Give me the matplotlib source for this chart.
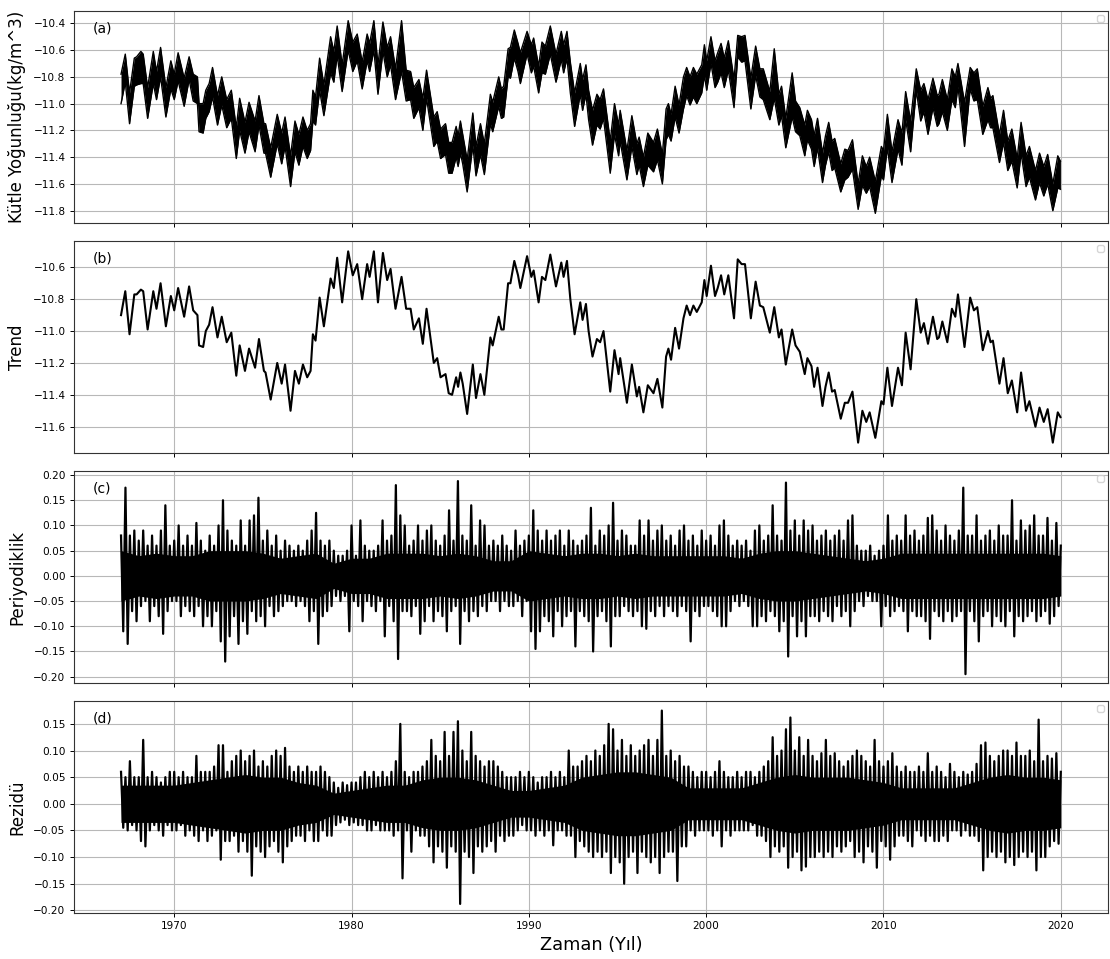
import numpy as np
import matplotlib
matplotlib.use("Agg")
import matplotlib.pyplot as plt
from matplotlib.ticker import MultipleLocator

# ---------------- data ----------------
# Trend (panel b): turning points (year, value)
trend_years = [
    1967.00, 1967.24, 1967.48, 1967.75, 1967.88, 1968.12, 1968.25, 1968.50, 1968.82, 1969.00,
    1969.23, 1969.53, 1969.81, 1970.00, 1970.22, 1970.56, 1970.84, 1971.07, 1971.31, 1971.40,
    1971.63, 1971.78, 1971.97, 1972.16, 1972.44, 1972.68, 1972.96, 1973.22, 1973.50, 1973.69,
    1973.99, 1974.22, 1974.56, 1974.78, 1975.06, 1975.15, 1975.44, 1975.81, 1976.06, 1976.25,
    1976.56, 1976.81, 1977.03, 1977.26, 1977.50, 1977.69, 1977.82, 1977.97, 1978.20, 1978.44,
    1978.82, 1979.00, 1979.19, 1979.47, 1979.81, 1980.07, 1980.32, 1980.60, 1980.88, 1981.02,
    1981.26, 1981.49, 1981.77, 1982.01, 1982.20, 1982.48, 1982.82, 1983.08, 1983.33, 1983.51,
    1983.80, 1984.02, 1984.23, 1984.64, 1984.83, 1985.02, 1985.30, 1985.48, 1985.67, 1985.90,
    1986.01, 1986.14, 1986.27, 1986.52, 1986.84, 1987.02, 1987.27, 1987.49, 1987.83, 1987.96,
    1988.30, 1988.45, 1988.58, 1988.83, 1988.96, 1989.18, 1989.39, 1989.52, 1989.90, 1990.14,
    1990.27, 1990.55, 1990.74, 1990.93, 1991.21, 1991.53, 1991.83, 1991.96, 1992.15, 1992.34,
    1992.58, 1992.90, 1993.03, 1993.22, 1993.37, 1993.59, 1993.84, 1994.02, 1994.21, 1994.59,
    1994.83, 1995.06, 1995.15, 1995.53, 1995.81, 1996.09, 1996.22, 1996.46, 1996.71, 1997.03,
    1997.25, 1997.53, 1997.74, 1997.87, 1998.02, 1998.25, 1998.47, 1998.72, 1998.90, 1999.09,
    1999.28, 1999.47, 1999.75, 1999.90, 2000.03, 2000.27, 2000.50, 2000.65, 2000.84, 2001.02,
    2001.25, 2001.57, 2001.78, 2002.00, 2002.19, 2002.52, 2002.79, 2003.03, 2003.22, 2003.59,
    2003.84, 2004.10, 2004.25, 2004.49, 2004.85, 2005.04, 2005.28, 2005.56, 2005.71, 2005.94,
    2006.09, 2006.28, 2006.56, 2006.73, 2006.91, 2007.10, 2007.25, 2007.59, 2007.82, 2008.00,
    2008.25, 2008.57, 2008.81, 2009.03, 2009.22, 2009.54, 2009.88, 2010.00, 2010.22, 2010.48,
    2010.82, 2011.04, 2011.25, 2011.53, 2011.85, 2012.10, 2012.28, 2012.51, 2012.79, 2013.03,
    2013.13, 2013.32, 2013.60, 2013.86, 2014.05, 2014.20, 2014.57, 2014.89, 2015.10, 2015.29,
    2015.60, 2015.89, 2016.04, 2016.17, 2016.54, 2016.77, 2017.01, 2017.24, 2017.54, 2017.76,
    2018.04, 2018.23, 2018.57, 2018.80, 2019.04, 2019.26, 2019.55, 2019.83, 2019.98,
]
trend_vals = [
    -10.90, -10.75, -11.02, -10.77, -10.77, -10.74, -10.75, -10.99, -10.75, -10.86,
    -10.70, -10.97, -10.78, -10.87, -10.73, -10.91, -10.72, -10.87, -10.90, -11.09,
    -11.10, -11.00, -10.96, -10.85, -11.04, -10.91, -11.07, -11.01, -11.28, -11.09,
    -11.25, -11.11, -11.23, -11.05, -11.25, -11.26, -11.43, -11.20, -11.33, -11.21,
    -11.50, -11.25, -11.33, -11.21, -11.29, -11.25, -11.02, -11.06, -10.79, -10.97,
    -10.67, -10.73, -10.54, -10.82, -10.50, -10.65, -10.58, -10.80, -10.58, -10.66,
    -10.50, -10.82, -10.51, -10.68, -10.61, -10.86, -10.66, -10.86, -10.86, -10.99,
    -10.92, -11.08, -10.86, -11.20, -11.17, -11.29, -11.27, -11.39, -11.40, -11.29,
    -11.35, -11.26, -11.33, -11.52, -11.21, -11.42, -11.27, -11.40, -11.04, -11.09,
    -10.91, -10.99, -10.99, -10.70, -10.70, -10.56, -10.65, -10.73, -10.53, -10.66,
    -10.62, -10.82, -10.66, -10.68, -10.52, -10.72, -10.57, -10.66, -10.56, -10.80,
    -11.02, -10.82, -10.93, -10.83, -11.00, -11.16, -11.05, -11.07, -11.00, -11.38,
    -11.12, -11.27, -11.17, -11.45, -11.21, -11.41, -11.35, -11.51, -11.34, -11.39,
    -11.30, -11.48, -11.16, -11.11, -11.18, -10.98, -11.11, -10.92, -10.84, -10.90,
    -10.84, -10.88, -10.82, -10.68, -10.78, -10.59, -10.78, -10.73, -10.65, -10.77,
    -10.65, -10.92, -10.55, -10.58, -10.58, -10.92, -10.69, -10.84, -10.85, -11.01,
    -10.85, -11.04, -10.99, -11.21, -10.99, -11.09, -11.13, -11.27, -11.17, -11.22,
    -11.35, -11.23, -11.47, -11.35, -11.26, -11.38, -11.37, -11.55, -11.45, -11.45,
    -11.38, -11.70, -11.50, -11.57, -11.51, -11.67, -11.44, -11.46, -11.23, -11.47,
    -11.23, -11.34, -11.01, -11.24, -10.80, -11.01, -10.95, -11.08, -10.91, -11.05,
    -11.04, -10.94, -11.07, -10.86, -10.91, -10.77, -11.10, -10.79, -10.87, -10.85,
    -11.12, -11.00, -11.07, -11.06, -11.33, -11.17, -11.39, -11.31, -11.51, -11.26,
    -11.50, -11.44, -11.60, -11.48, -11.57, -11.49, -11.70, -11.51, -11.54,
]
# Panel (a): how far the raw band reaches above / below the trend at the same years
raw_above = [
    .12, .12, .10, .11, .12, .13, .12, .11, .14, .10,
    .12, .09, .10, .09, .11, .10, .07, .09, .10, .09,
    .10, .10, .11, .12, .10, .11, .10, .11, .10, .13,
    .11, .12, .10, .11, .10, .11, .10, .12, .11, .11,
    .11, .12, .10, .11, .09, .10, .12, .11, .13, .11,
    .17, .12, .12, .11, .12, .11, .10, .11, .10, .11,
    .12, .11, .12, .10, .11, .12, .28, .11, .10, .11,
    .10, .12, .11, .10, .11, .10, .12, .10, .11, .12,
    .11, .13, .10, .10, .14, .10, .12, .10, .11, .10,
    .11, .10, .12, .11, .12, .11, .10, .11, .07, .10,
    .11, .10, .12, .11, .10, .09, .11, .10, .10, .11,
    .10, .12, .11, .12, .10, .11, .12, .10, .11, .10,
    .12, .11, .12, .10, .12, .11, .10, .11, .12, .10,
    .11, .10, .12, .11, .10, .11, .10, .12, .11, .10,
    .11, .10, .11, .12, .10, .09, .10, .11, .10, .11,
    .12, .10, .06, .08, .09, .11, .12, .10, .11, .10,
    .26, .11, .12, .10, .22, .11, .10, .11, .12, .10,
    .11, .12, .10, .11, .12, .10, .11, .10, .11, .10,
    .11, .10, .11, .10, .11, .09, .12, .11, .15, .11,
    .11, .12, .10, .11, .06, .11, .10, .11, .10, .11,
    .11, .12, .10, .12, .11, .07, .11, .06, .10, .11,
    .10, .12, .11, .12, .10, .12, .11, .12, .10, .12,
    .11, .12, .10, .11, .10, .11, .10, .12, .11,
]
raw_below = [
    .10, .09, .13, .10, .09, .11, .10, .12, .10, .11,
    .10, .13, .11, .10, .10, .11, .10, .11, .10, .12,
    .12, .11, .10, .10, .12, .10, .11, .10, .13, .11,
    .12, .10, .13, .11, .12, .11, .12, .10, .12, .11,
    .12, .11, .13, .11, .12, .10, .11, .10, .11, .12,
    .10, .11, .10, .09, .10, .11, .10, .09, .10, .10,
    .10, .11, .10, .12, .10, .11, .10, .12, .11, .12,
    .11, .12, .10, .12, .11, .12, .11, .13, .12, .11,
    .12, .11, .12, .14, .10, .12, .11, .13, .11, .12,
    .11, .12, .11, .10, .11, .10, .11, .12, .10, .11,
    .10, .10, .11, .10, .11, .12, .10, .11, .10, .12,
    .15, .11, .12, .10, .12, .15, .11, .12, .11, .14,
    .11, .12, .11, .12, .11, .12, .11, .11, .12, .12,
    .12, .12, .11, .12, .10, .12, .11, .12, .10, .11,
    .11, .12, .10, .11, .12, .11, .10, .11, .12, .11,
    .10, .11, .10, .11, .10, .12, .10, .11, .12, .11,
    .11, .12, .10, .12, .11, .12, .11, .12, .10, .12,
    .12, .10, .12, .11, .10, .12, .11, .11, .12, .10,
    .11, .09, .11, .10, .11, .15, .10, .11, .10, .12,
    .11, .12, .11, .12, .10, .12, .11, .15, .12, .12,
    .11, .12, .13, .11, .12, .10, .22, .10, .11, .12,
    .11, .12, .11, .12, .11, .12, .11, .12, .12, .11,
    .12, .11, .12, .11, .12, .11, .10, .12, .10,
]

# Panels (c) and (d): samples every 1/8 year starting 1967.0
series_start = 1967.0
samples_per_year = 8
periodic_vals = [
    .08, -.11, .175, -.135, .08, -.07, .09, -.09,     # 1967
    .07, -.06, .09, -.05, .06, -.09, .08, -.06,       # 1968
    .06, -.08, .09, -.115, .14, -.07, .06, -.05,      # 1969
    .07, -.05, .10, -.08, .06, -.06, .08, -.07,       # 1970
    .06, -.08, .105, -.06, .07, -.10, .05, -.08,      # 1971
    .08, -.10, .06, -.07, .10, -.13, .15, -.17,       # 1972
    .09, -.12, .07, -.08, .06, -.135, .11, -.09,      # 1973
    .06, -.115, .11, -.07, .12, -.09, .155, -.08,     # 1974
    .07, -.10, .09, -.06, .06, -.08, .08, -.07,       # 1975
    .05, -.06, .07, -.05, .06, -.05, .05, -.06,       # 1976
    .06, -.05, .05, -.06, .07, -.09, .09, -.07,       # 1977
    .125, -.135, .07, -.08, .06, -.07, .07, -.06,     # 1978
    .05, -.04, .04, -.05, .04, -.04, .05, -.11,       # 1979
    .10, -.05, .04, -.06, .11, -.09, .06, -.05,       # 1980
    .05, -.06, .05, -.07, .06, -.05, .11, -.12,       # 1981
    .07, -.06, .08, -.09, .18, -.165, .12, -.07,      # 1982
    .10, -.07, .06, -.08, .07, -.06, .10, -.115,      # 1983
    .07, -.09, .09, -.06, .10, -.09, .07, -.07,       # 1984
    .06, -.08, .08, -.11, .13, -.07, .07, -.06,       # 1985
    .188, -.135, .08, -.07, .07, -.09, .14, -.07,     # 1986
    .06, -.08, .11, -.06, .10, -.07, .06, -.05,       # 1987
    .07, -.05, .06, -.07, .08, -.05, .06, -.06,       # 1988
    .05, -.06, .09, -.05, .06, -.08, .07, -.05,       # 1989
    .08, -.11, .13, -.145, .09, -.11, .07, -.08,      # 1990
    .09, -.09, .07, -.12, .08, -.07, .09, -.10,       # 1991
    .06, -.08, .09, -.07, .07, -.14, .06, -.07,       # 1992
    .07, -.08, .08, -.09, .135, -.15, .06, -.08,      # 1993
    .09, -.07, .08, -.09, .10, -.14, .145, -.08,      # 1994
    .07, -.08, .09, -.06, .08, -.07, .06, -.08,       # 1995
    .06, -.07, .11, -.10, .08, -.105, .11, -.07,      # 1996
    .07, -.08, .09, -.06, .10, -.08, .07, -.06,       # 1997
    .08, -.07, .06, -.08, .09, -.06, .10, -.07,       # 1998
    .07, -.13, .08, -.07, .06, -.08, .09, -.06,       # 1999
    .07, -.06, .08, -.07, .06, -.08, .10, -.10,       # 2000
    .11, -.10, .08, -.07, .06, -.05, .07, -.06,       # 2001
    .06, -.05, .07, -.06, .05, -.10, .09, -.10,       # 2002
    .10, -.08, .07, -.09, .08, -.07, .14, -.08,       # 2003
    .08, -.11, .07, -.09, .185, -.16, .09, -.08,      # 2004
    .11, -.12, .08, -.09, .11, -.12, .09, -.08,       # 2005
    .10, -.08, .07, -.09, .08, -.07, .09, -.08,       # 2006
    .07, -.09, .08, -.06, .09, -.08, .07, -.07,       # 2007
    .11, -.10, .12, -.07, .06, -.05, .05, -.06,       # 2008
    .05, -.04, .06, -.05, .04, -.05, .05, -.10,       # 2009
    .06, -.06, .12, -.08, .07, -.07, .08, -.06,       # 2010
    .07, -.07, .12, -.11, .08, -.07, .09, -.08,       # 2011
    .07, -.08, .08, -.09, .115, -.125, .12, -.07,     # 2012
    .09, -.08, .07, -.09, .10, -.07, .08, -.09,       # 2013
    .07, -.08, .09, -.07, .175, -.195, .08, -.07,     # 2014
    .08, -.09, .12, -.13, .07, -.08, .08, -.07,       # 2015
    .09, -.10, .07, -.08, .10, -.09, .08, -.10,       # 2016
    .08, -.07, .15, -.12, .07, -.08, .11, -.09,       # 2017
    .09, -.08, .10, -.07, .12, -.09, .08, -.08,       # 2018
    .08, -.07, .115, -.095, .07, -.08, .105, -.06,    # 2019
    .06,                                              # 2020
]
resid_vals = [
    .06, -.045, .05, -.05, .08, -.04, .05, -.05,      # 1967
    .05, -.07, .12, -.08, .05, -.05, .06, -.04,       # 1968
    .05, -.05, .04, -.06, .05, -.04, .06, -.05,       # 1969
    .06, -.05, .05, -.04, .06, -.06, .05, -.05,       # 1970
    .05, -.06, .09, -.07, .06, -.05, .06, -.07,       # 1971
    .06, -.06, .07, -.05, .11, -.105, .11, -.07,      # 1972
    .06, -.07, .08, -.06, .09, -.09, .10, -.07,       # 1973
    .08, -.09, .09, -.135, .10, -.08, .07, -.09,      # 1974
    .08, -.10, .07, -.08, .09, -.07, .10, -.09,       # 1975
    .09, -.11, .105, -.08, .07, -.07, .06, -.06,      # 1976
    .07, -.06, .06, -.07, .07, -.05, .06, -.07,       # 1977
    .06, -.07, .07, -.05, .06, -.06, .05, -.06,       # 1978
    .04, -.04, .03, -.035, .04, -.03, .035, -.04,     # 1979
    .04, -.035, .04, -.04, .05, -.04, .06, -.05,      # 1980
    .05, -.05, .06, -.04, .05, -.05, .06, -.05,       # 1981
    .05, -.05, .06, -.06, .08, -.05, .15, -.14,       # 1982
    .06, -.05, .05, -.09, .06, -.05, .06, -.06,       # 1983
    .07, -.06, .08, -.08, .12, -.11, .09, -.08,       # 1984
    .08, -.09, .135, -.12, .09, -.08, .135, -.09,     # 1985
    .155, -.188, .10, -.09, .08, -.10, .135, -.13,    # 1986
    .09, -.08, .08, -.09, .07, -.08, .08, -.07,       # 1987
    .08, -.09, .07, -.06, .06, -.07, .05, -.06,       # 1988
    .05, -.06, .05, -.05, .06, -.04, .05, -.05,       # 1989
    .06, -.05, .05, -.06, .04, -.05, .05, -.06,       # 1990
    .05, -.05, .06, -.078, .05, -.05, .06, -.05,      # 1991
    .05, -.06, .10, -.06, .07, -.10, .07, -.07,       # 1992
    .08, -.08, .09, -.09, .08, -.10, .10, -.09,       # 1993
    .09, -.10, .11, -.09, .15, -.13, .14, -.10,       # 1994
    .10, -.11, .12, -.15, .09, -.10, .11, -.09,       # 1995
    .09, -.13, .10, -.09, .11, -.10, .12, -.11,       # 1996
    .09, -.10, .12, -.13, .175, -.10, .09, -.09,      # 1997
    .10, -.09, .08, -.145, .09, -.08, .07, -.08,      # 1998
    .07, -.05, .06, -.06, .05, -.05, .06, -.05,       # 1999
    .06, -.05, .05, -.06, .06, -.05, .08, -.08,       # 2000
    .06, -.05, .05, -.06, .05, -.05, .06, -.05,       # 2001
    .05, -.05, .06, -.05, .06, -.04, .05, -.06,       # 2002
    .06, -.06, .07, -.07, .08, -.10, .125, -.08,      # 2003
    .09, -.09, .10, -.08, .14, -.12, .162, -.10,      # 2004
    .10, -.09, .125, -.125, .09, -.118, .12, -.10,    # 2005
    .09, -.10, .08, -.09, .095, -.10, .12, -.09,      # 2006
    .09, -.10, .095, -.08, .08, -.09, .07, -.08,      # 2007
    .08, -.07, .09, -.10, .10, -.09, .09, -.11,       # 2008
    .08, -.08, .07, -.09, .12, -.12, .08, -.07,       # 2009
    .07, -.08, .08, -.105, .095, -.08, .07, -.06,     # 2010
    .06, -.06, .07, -.07, .06, -.08, .06, -.05,       # 2011
    .07, -.06, .06, -.07, .095, -.06, .06, -.07,      # 2012
    .07, -.07, .06, -.06, .05, -.07, .075, -.05,      # 2013
    .06, -.05, .05, -.06, .06, -.05, .055, -.06,      # 2014
    .06, -.06, .075, -.07, .11, -.125, .115, -.10,    # 2015
    .09, -.09, .08, -.10, .09, -.09, .10, -.11,       # 2016
    .10, -.10, .09, -.115, .115, -.10, .09, -.09,     # 2017
    .09, -.10, .10, -.09, .08, -.125, .158, -.10,     # 2018
    .08, -.10, .09, -.08, .085, -.07, .095, -.075,    # 2019
    .06,                                              # 2020
]
# half-width of the solid dense core of panels (c) and (d), one value per year 1967..2020
periodic_core = [
    .05, .04, .045, .04, .04, .05, .05, .05, .045, .035,
    .04, .045, .025, .035, .035, .045, .045, .045, .04, .045,
    .04, .03, .03, .05, .045, .04, .045, .045, .04, .045,
    .04, .04, .04, .04, .04, .035, .045, .05, .05, .045,
    .04, .035, .03, .035, .045, .045, .045, .045, .045, .045,
    .045, .045, .045, .04,
]
resid_core = [
    .035, .035, .035, .035, .04, .045, .05, .055, .05, .05,
    .04, .035, .02, .025, .03, .035, .035, .045, .05, .05,
    .045, .035, .025, .025, .03, .035, .05, .055, .06, .06,
    .055, .05, .03, .03, .03, .03, .04, .05, .055, .05,
    .05, .05, .045, .04, .03, .03, .03, .03, .04, .05,
    .055, .05, .05, .045,
]
core_start = 1967.0

panel_tags = ['(a)', '(b)', '(c)', '(d)']
y_titles = ['Kütle Yoğunluğu(kg/m^3)', 'Trend', 'Periyodiklik', 'Rezidü']
x_title = 'Zaman (Yıl)'

# ---------------- figure ----------------
plt.rcParams['font.family'] = ['DejaVu Sans']
fig, axes = plt.subplots(4, 1, figsize=(11.1, 9.59), dpi=100, sharex=True)
fig.subplots_adjust(left=0.0667, right=0.998, top=0.9885, bottom=0.048, hspace=0.085)

ty = np.asarray(trend_years)
tv = np.asarray(trend_vals)
n = min(len(ty), len(tv), len(raw_above), len(raw_below))
raw_hi = tv[:n] + np.asarray(raw_above[:n])
raw_lo = tv[:n] - np.asarray(raw_below[:n])

ax = axes[0]
ax.fill_between(ty[:n], raw_lo, raw_hi, color='black', lw=0, zorder=2)
ax.plot(ty[:n], raw_hi, color='black', lw=1.0, zorder=2)
ax.plot(ty[:n], raw_lo, color='black', lw=1.0, zorder=2)

axes[1].plot(ty, tv, color='black', lw=1.5, zorder=2)

for ax, vals, core in ((axes[2], periodic_vals, periodic_core),
                       (axes[3], resid_vals, resid_core)):
    t = series_start + np.arange(len(vals)) / samples_per_year
    tcore = core_start + np.arange(len(core))
    c = np.asarray(core)
    ax.fill_between(tcore, -c, c, color='black', lw=0, zorder=2)
    ax.plot(t, vals, color='black', lw=1.6, zorder=2)

ylims = [(-11.892, -10.308), (-11.765, -10.435), (-0.2125, 0.208), (-0.205, 0.193)]
for ax, tag, yt, yl in zip(axes, panel_tags, y_titles, ylims):
    ax.set_ylim(*yl)
    ax.set_xlim(1964.35, 2022.65)
    ax.grid(True, color='#b8b8b8', lw=0.8)
    ax.set_axisbelow(True)
    ax.tick_params(labelsize=7.6, length=2.6, width=0.7)
    ax.set_ylabel(yt, fontsize=12)
    ax.yaxis.set_label_coords(-0.046, 0.5)
    ax.text(0.018, 0.95, tag, transform=ax.transAxes, fontsize=10, va='top', ha='left')
    ax.legend(loc='upper right', fontsize=6)
    for s in ax.spines.values():
        s.set_linewidth(0.8)
        s.set_color('#333333')

axes[3].xaxis.set_major_locator(MultipleLocator(10))
axes[3].set_xlabel(x_title, fontsize=12.8, labelpad=3)

fig.savefig('out.png', dpi=100)
